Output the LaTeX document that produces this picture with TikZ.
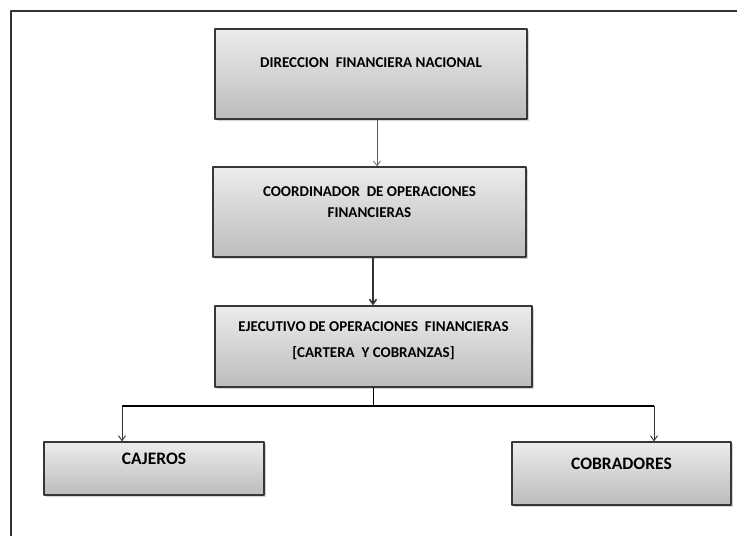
\documentclass[tikz,border=0pt]{standalone}
\usepackage{fontspec}
\setmainfont{Carlito}
\usetikzlibrary{arrows.meta,shadows}
\definecolor{grisclaro}{RGB}{236,236,236}
\definecolor{grisoscuro}{RGB}{188,188,188}
\definecolor{borde}{RGB}{55,55,55}
\newcommand{\textocaja}[4]{\parbox[c][#2][t]{#1}{\centering\vspace*{#3}#4}}
\tikzset{
  caja/.style={draw=borde,line width=1.1pt,inner sep=0pt,top color=grisclaro,bottom color=grisoscuro,
    drop shadow={shadow xshift=1.5pt,shadow yshift=-1.5pt,opacity=0.35}},
  cajabaja/.style={caja,font=\fontsize{17.5}{21}\selectfont\bfseries},
  flecha/.style={->,line width=0.9pt,color=black!80}
}
\begin{document}
\begin{tikzpicture}[x=1pt,y=-1pt,>={Straight Barb[length=5pt,width=7pt]},line join=round,font=\fontsize{15}{21}\selectfont\bfseries]
  \useasboundingbox (0,0) rectangle (737,536);
  % marco
  \draw[line width=1.6pt,color=black!80] (11,536) -- (11,11) -- (737,11);
  % cajas
  \node[caja] (direccion) at (371,74) {\textocaja{312pt}{90pt}{29pt}{DIRECCION\ \ FINANCIERA NACIONAL}};
  \node[caja] (coordinador) at (369.5,212) {\textocaja{313pt}{90pt}{20pt}{COORDINADOR\ \ DE OPERACIONES\\FINANCIERAS}};
  \node[caja,font=\fontsize{15}{26}\selectfont\bfseries] (ejecutivo) at (373.5,346.5) {\textocaja{317pt}{81pt}{16pt}{EJECUTIVO DE OPERACIONES\ \ FINANCIERAS\\{[}CARTERA\ \ Y COBRANZAS{]}}};
  \node[cajabaja] (cajeros) at (154,468.5) {\textocaja{220pt}{53pt}{11pt}{CAJEROS}};
  \node[cajabaja] (cobradores) at (621.5,473.5) {\textocaja{219pt}{63pt}{16pt}{COBRADORES}};
  \coordinate (ramaA) at (122,406);
  \coordinate (ramaB) at (654,406);
  % conectores
  \draw[flecha,line width=0.7pt,color=black!65] ([xshift=6pt]direccion.south) -- ([xshift=6pt]direccion.south |- coordinador.north);
  \draw[flecha,line width=1.5pt] ([xshift=3.5pt]coordinador.south) -- ([xshift=3.5pt]coordinador.south |- ejecutivo.north);
  \draw[line width=1.2pt] (ejecutivo.south) -- (ejecutivo.south |- ramaA);
  \draw[line width=1.2pt] (ramaA) -- (ramaB);
  \draw[flecha] (ramaA) -- (ramaA |- cajeros.north);
  \draw[flecha] (ramaB) -- (ramaB |- cobradores.north);
\end{tikzpicture}
\end{document}
